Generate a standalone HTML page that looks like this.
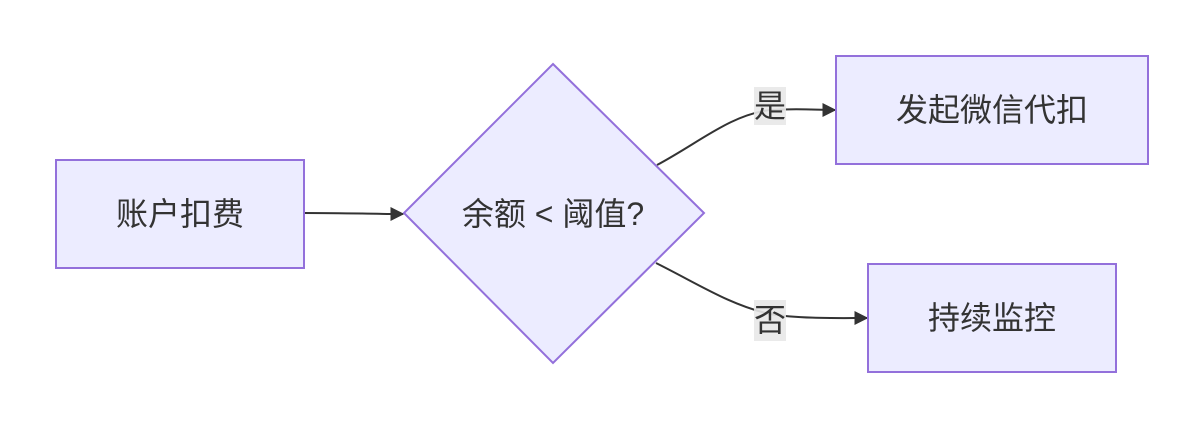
<!DOCTYPE html>
<html><head><meta charset="utf-8"><style>
html,body{margin:0;padding:0;background:#fff;}
svg{display:block;}
text{font-family:"Liberation Sans","Noto Sans CJK SC",sans-serif;fill:#333;font-size:32px;}
</style></head><body>
<svg width="1204" height="427" viewBox="0 0 1204 427" xmlns="http://www.w3.org/2000/svg">
<defs><marker id="ar" viewBox="0 0 10 10" refX="9" refY="5" markerWidth="14" markerHeight="14" markerUnits="userSpaceOnUse" orient="auto"><path d="M0,0 L10,5 L0,10 z" fill="#333"/></marker></defs>
<g fill="none" stroke="#333" stroke-width="2">
<path d="M304,213 C350,213 370,214 403,214" marker-end="url(#ar)"/>
<path d="M657,165 C700,142 730,115 770,110 C800,108 815,110 835,110" marker-end="url(#ar)"/>
<path d="M656,263 C700,285 730,305 770,314 C800,319 840,318 867,318" marker-end="url(#ar)"/>
</g>
<g fill="#ECECFF" stroke="#9370DB" stroke-width="2">
<rect x="56" y="160" width="248" height="108"/>
<polygon points="553,64 704,213 553,363 404,213"/>
<rect x="836" y="56" width="312" height="108"/>
<rect x="868" y="264" width="248" height="108"/>
</g>
<rect x="754" y="87" width="32" height="38" fill="#e8e8e8" opacity="0.9"/>
<rect x="754" y="300" width="32" height="41" fill="#e8e8e8" opacity="0.9"/>
<g text-anchor="middle" dominant-baseline="central">
<text x="180" y="214">账户扣费</text>
<text x="553" y="214">余额 &lt; 阈值?</text>
<text x="992" y="110">发起微信代扣</text>
<text x="992" y="318">持续监控</text>
<text x="770" y="106">是</text>
<text x="770" y="320">否</text>
</g>
</svg>
</body></html>
